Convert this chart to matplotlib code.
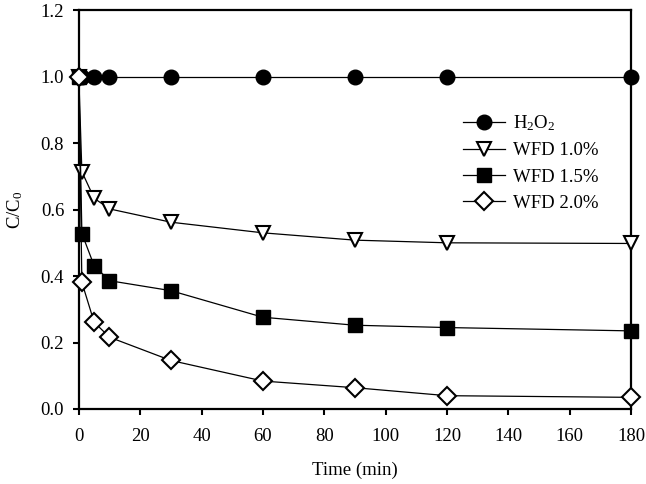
import matplotlib
matplotlib.use("Agg")
import matplotlib.pyplot as plt

time = [0, 1, 5, 10, 30, 60, 90, 120, 180]
h2o2 = [1.0, 1.0, 1.0, 1.0, 1.0, 1.0, 1.0, 1.0, 1.0]
wfd10 = [1.0, 0.714, 0.634, 0.602, 0.562, 0.530, 0.508, 0.500, 0.498]
wfd15 = [1.0, 0.528, 0.431, 0.386, 0.356, 0.276, 0.252, 0.245, 0.235]
wfd20 = [1.0, 0.381, 0.261, 0.216, 0.146, 0.084, 0.064, 0.040, 0.035]

xticks = [0, 20, 40, 60, 80, 100, 120, 140, 160, 180]
yticks = [0.0, 0.2, 0.4, 0.6, 0.8, 1.0, 1.2]

plt.rcParams['font.family'] = ['Liberation Serif', 'DejaVu Serif']
plt.rcParams['mathtext.default'] = 'regular'

fs = 13.5
fig = plt.figure(figsize=(6.46, 4.84), dpi=100)
ax = fig.add_axes([0.122, 0.155, 0.855, 0.824])

lw = 0.9
ax.plot(time, h2o2, '-', color='black', lw=lw, marker='o', ms=10.5,
        mfc='black', mec='black', clip_on=False, zorder=3, label='H$_2$O$_2$')
ax.plot(time, wfd10, '-', color='black', lw=lw, marker='v', ms=10.5,
        mfc='white', mec='black', mew=1.5, clip_on=False, zorder=4, label='WFD 1.0%')
ax.plot(time, wfd15, '-', color='black', lw=lw, marker='s', ms=9.5,
        mfc='black', mec='black', clip_on=False, zorder=5, label='WFD 1.5%')
ax.plot(time, wfd20, '-', color='black', lw=lw, marker='D', ms=9,
        mfc='white', mec='black', mew=1.5, clip_on=False, zorder=6, label='WFD 2.0%')

ax.set_xlim(0, 180)
ax.set_ylim(0, 1.2)
ax.set_xticks(xticks)
ax.set_yticks(yticks)
ax.set_yticklabels([f"{v:.1f}" for v in yticks])
ax.tick_params(direction='out', length=4.5, width=1.5, labelsize=fs)
ax.tick_params(axis='x', pad=9)
ax.tick_params(axis='y', pad=6)
for s in ax.spines.values():
    s.set_linewidth(1.6)

ax.set_xlabel('Time (min)', fontsize=fs)
ax.set_ylabel('C/C$_0$', fontsize=fs)
ax.xaxis.set_label_coords(0.5, -0.133)
ax.yaxis.set_label_coords(-0.098, 0.5)

leg = ax.legend(loc='upper left', bbox_to_anchor=(0.691, 0.801),
                bbox_transform=fig.transFigure, frameon=False,
                fontsize=fs, handlelength=2.24, labelspacing=0.49,
                handletextpad=0.4, borderpad=0.4)

fig.savefig('out.png', dpi=100)
